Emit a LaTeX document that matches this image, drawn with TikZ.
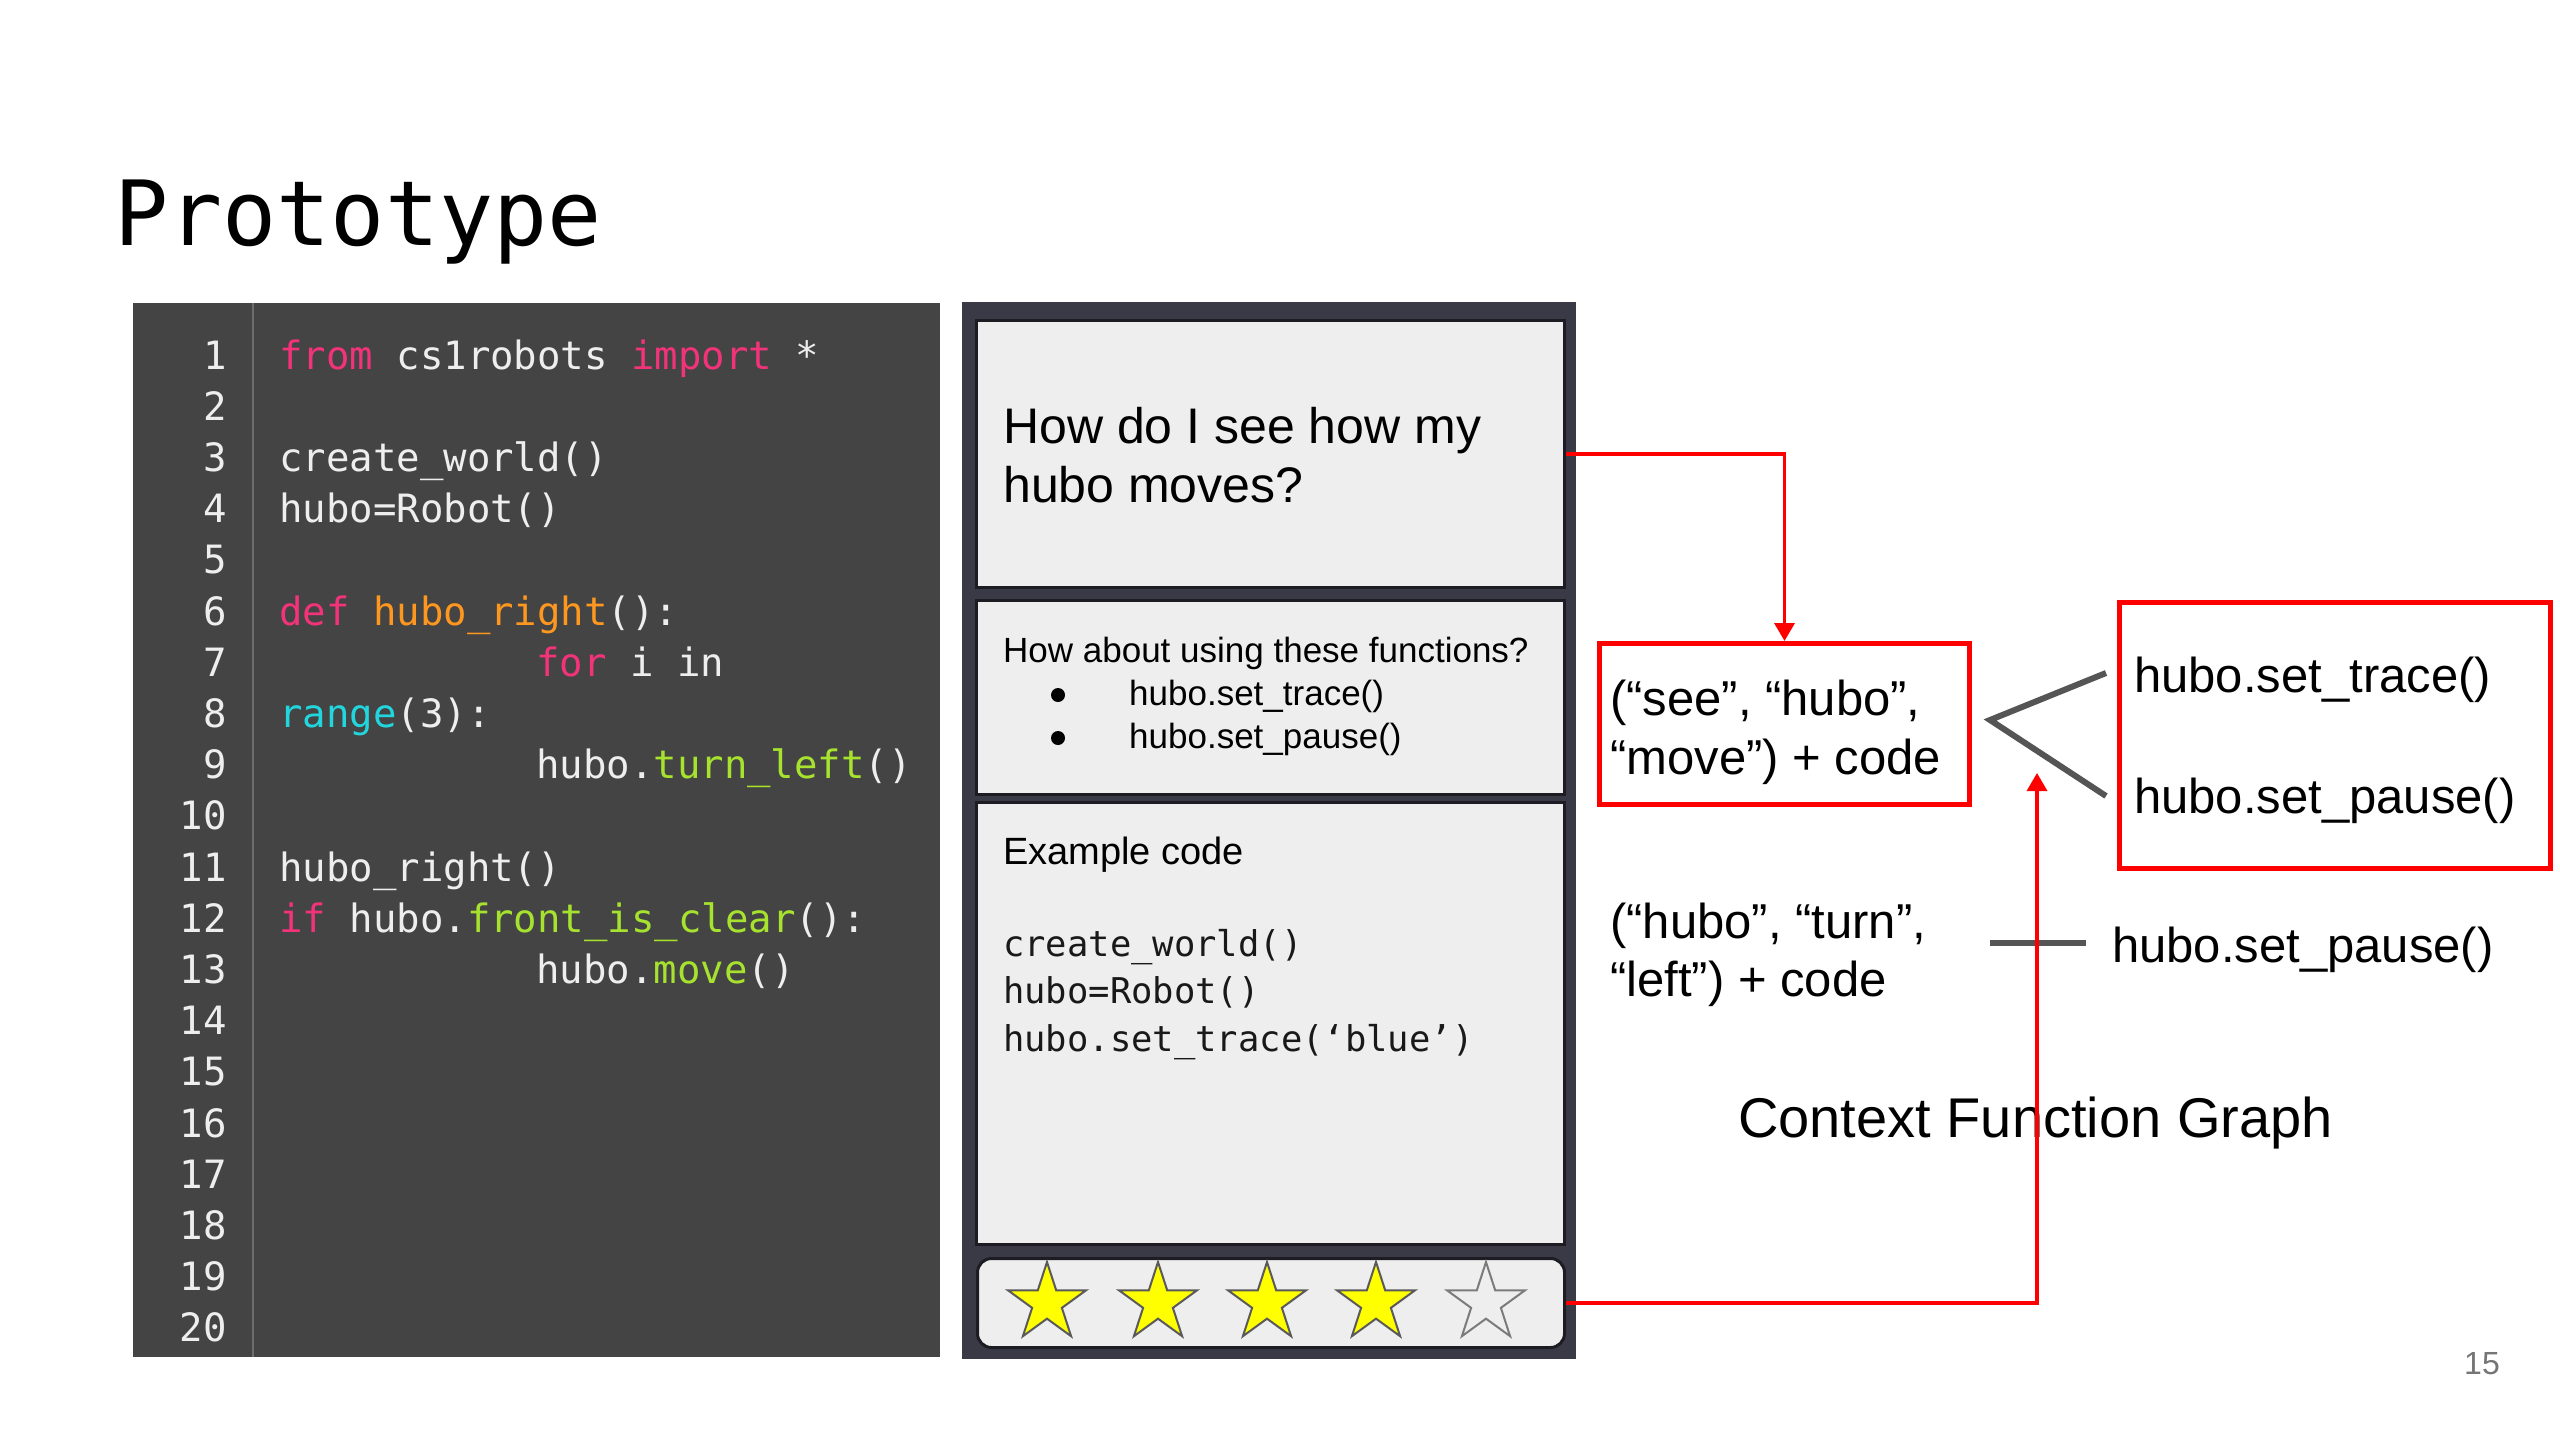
\documentclass[tikz,border=0pt]{standalone}
\usepackage{fontspec}
\setmainfont{Liberation Sans}
\newfontfamily\codefont{DejaVu Sans Mono}
\usetikzlibrary{shapes.geometric,arrows.meta}
\definecolor{codebg}{HTML}{444444}
\definecolor{gutterline}{HTML}{6E6E6E}
\definecolor{codewhite}{HTML}{EEEEEE}
\definecolor{kwpink}{HTML}{F2337A}
\definecolor{fnorange}{HTML}{FD971F}
\definecolor{bicyan}{HTML}{22D6DE}
\definecolor{mtgreen}{HTML}{A6E22E}
\definecolor{appframe}{HTML}{3A3A47}
\definecolor{boxfill}{HTML}{EEEEEE}
\definecolor{boxline}{HTML}{1C1C22}
\definecolor{linkred}{HTML}{FF0000}
\definecolor{linkgray}{HTML}{555555}
\definecolor{pagegray}{HTML}{757575}
\definecolor{staryellow}{HTML}{FFFF00}
\definecolor{starline}{HTML}{5A5A5A}
\newcommand\ckw[1]{\textcolor{kwpink}{#1}}
\newcommand\cfn[1]{\textcolor{fnorange}{#1}}
\newcommand\cbi[1]{\textcolor{bicyan}{#1}}
\newcommand\cmt[1]{\textcolor{mtgreen}{#1}}
\tikzset{
  ln/.style={anchor=base east, inner sep=0pt, font=\codefont\fontsize{39}{39}\selectfont, text=codewhite},
  cl/.style={anchor=base west, inner sep=0pt, font=\codefont\fontsize{39}{39}\selectfont, text=codewhite},
  panelbox/.style={anchor=north west, inner sep=0pt, fill=boxfill, draw=boxline, line width=3pt},
  redbox/.style={anchor=north west, inner sep=0pt, draw=linkred, line width=5pt},
  sanstext/.style={anchor=base west, inner sep=0pt, text=black},
  bulletdot/.style={circle, fill=black, inner sep=0pt, minimum size=14pt},
  appcode/.style={anchor=base west, inner sep=0pt, font=\codefont\fontsize{35.5}{35.5}\selectfont, text=black!90},
  starfull/.style={star, star points=5, star point ratio=2.618, minimum size=82pt, inner sep=0pt, fill=staryellow, draw=starline, line width=2pt},
  starempty/.style={starfull, fill=boxfill, draw=starline!80},
  redlink/.style={draw=linkred, line width=3.5pt, -{Triangle[width=20pt,length=18pt]}},
  graylink/.style={draw=linkgray, line width=6pt},
}
\begin{document}
\begin{tikzpicture}[x=1pt,y=-1pt]
\useasboundingbox[fill=white] (0,0) rectangle (2560,1440);

% title
\node[anchor=base west, inner sep=0pt, font=\codefont\fontsize{90}{90}\selectfont] (title) at (114,245) {Prototype};

% code editor panel
\node[anchor=north west, inner sep=0pt, fill=codebg, minimum width=807pt, minimum height=1054pt] (codepanel) at (133,303) {};
\draw[gutterline, line width=1.5pt] (253,303) -- (253,1357);
\foreach \n in {1,...,20} {
  \node[ln] (num\n) at (227,{369+(\n-1)*51.2}) {\n};
}
\node[cl] (c1) at (279,369) {\ckw{from} cs1robots \ckw{import} *};
\node[cl] (c3) at (279,471.4) {create\_world()};
\node[cl] (c4) at (279,522.6) {hubo=Robot()};
\node[cl] (c6) at (279,625) {\ckw{def} \cfn{hubo\_right}():};
\node[cl] (c7) at (536,676.2) {\ckw{for} i in};
\node[cl] (c8) at (279,727.4) {\cbi{range}(3):};
\node[cl] (c9) at (536,778.6) {hubo.\cmt{turn\_left}()};
\node[cl] (c11) at (279,881) {hubo\_right()};
\node[cl] (c12) at (279,932.2) {\ckw{if} hubo.\cmt{front\_is\_clear}():};
\node[cl] (c13) at (536,983.4) {hubo.\cmt{move}()};

% app mock-up panel
\node[anchor=north west, inner sep=0pt, fill=appframe, minimum width=614pt, minimum height=1057pt] (app) at (962,302) {};
\node[panelbox, minimum width=588pt, minimum height=267pt] (box1) at (975,319) {};
\node[panelbox, minimum width=588pt, minimum height=194pt] (box2) at (975,599) {};
\node[panelbox, minimum width=588pt, minimum height=442pt] (box3) at (975,801) {};
\node[panelbox, rounded corners=14pt, minimum width=587pt, minimum height=89pt] (stars) at (976,1257) {};

\node[sanstext, font=\fontsize{50}{50}\selectfont] (q1) at (1003,443) {How do I see how my};
\node[sanstext, font=\fontsize{50}{50}\selectfont] (q2) at (1003,502) {hubo moves?};

\node[sanstext, font=\fontsize{35}{35}\selectfont] (s1) at (1003,662) {How about using these functions?};
\node[bulletdot] (b1) at (1058,695) {};
\node[bulletdot] (b2) at (1058,738) {};
\node[sanstext, font=\fontsize{35}{35}\selectfont] (s2) at (1129,705) {hubo.set\_trace()};
\node[sanstext, font=\fontsize{35}{35}\selectfont] (s3) at (1129,748) {hubo.set\_pause()};

\node[sanstext, font=\fontsize{38}{38}\selectfont] (ex) at (1003,864) {Example code};
\node[appcode] (e1) at (1003,956) {create\_world()};
\node[appcode] (e2) at (1003,1003) {hubo=Robot()};
\node[appcode] (e3) at (1003,1051) {hubo.set\_trace(‘blue’)};

\foreach \i/\x in {1/1047,2/1158,3/1267,4/1376} {
  \node[starfull] (star\i) at (\x,1303) {};
}
\node[starempty] (star5) at (1486,1303) {};

% context function graph
\node[redbox, minimum width=370pt, minimum height=161pt] (boxA) at (1597,641) {};
\node[sanstext, font=\fontsize{49}{49}\selectfont] (a1) at (1610,715) {(“see”, “hubo”,};
\node[sanstext, font=\fontsize{49}{49}\selectfont] (a2) at (1610,774) {“move”) + code};

\node[redbox, minimum width=431pt, minimum height=266pt] (boxB) at (2117,600) {};
\node[sanstext, font=\fontsize{49}{49}\selectfont] (fb1) at (2134,692) {hubo.set\_trace()};
\node[sanstext, font=\fontsize{49}{49}\selectfont] (fb2) at (2134,813) {hubo.set\_pause()};

\node[sanstext, font=\fontsize{49}{49}\selectfont] (h1) at (1610,938) {(“hubo”, “turn”,};
\node[sanstext, font=\fontsize{49}{49}\selectfont] (h2) at (1610,996) {“left”) + code};
\node[sanstext, font=\fontsize{49}{49}\selectfont] (hp) at (2112,962) {hubo.set\_pause()};

\node[sanstext, font=\fontsize{56}{56}\selectfont] (cfg) at (1738,1137) {Context Function Graph};

\node[anchor=base west, inner sep=0pt, text=pagegray, font=\fontsize{32}{32}\selectfont] (page) at (2464,1374) {15};

% gray links
\coordinate (gv) at (1990,720);
\coordinate (gt) at (2106,673);
\coordinate (gp) at (2106,796);
\draw[graylink] (gt) -- (gv) -- (gp);
\coordinate (dL) at (1990,943);
\coordinate (dR) at (2086,943);
\draw[graylink] (dL) -- (dR);

% red links
\draw[redlink] (box1.east) -| (boxA.north);
\coordinate (r2end) at (2037,773);
\draw[redlink] (stars.east) -| (r2end);
\end{tikzpicture}
\end{document}
